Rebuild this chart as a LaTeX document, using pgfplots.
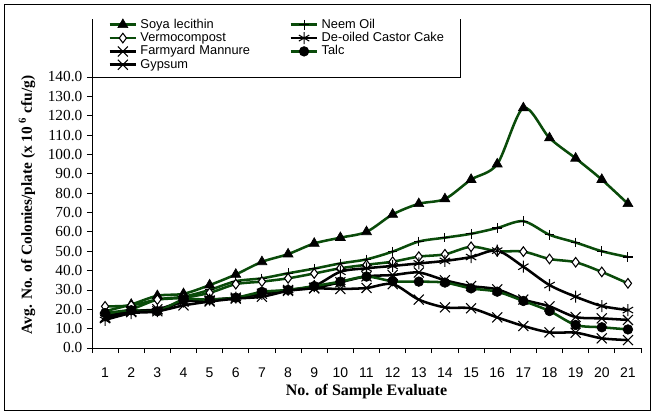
\documentclass[border=0pt]{standalone}
\usepackage{fontspec}
\setmainfont{Liberation Sans}
\newfontfamily\timesf{Liberation Serif}
\usepackage{pgfplots}
\pgfplotsset{compat=1.18}
\definecolor{dg}{RGB}{10,75,10}
\begin{document}
\begin{tikzpicture}
\useasboundingbox (-69pt,-47.25pt) rectangle (422.25pt,261pt);
\draw[line width=0.75pt] (-65.25pt,-46.5pt) rectangle (418.5pt,257.25pt);
\begin{axis}[
  at={(0,0)}, anchor=south west,
  width=411.75pt, height=203.25pt, scale only axis,
  xmin=0.5, xmax=21.5, ymin=0, ymax=140,
  axis x line*=bottom, axis y line*=left,
  axis line style={-, line width=0.6pt},
  tick align=outside, major tick length=3.75pt,
  tick style={line width=0.6pt, black},
  xtick={0.5,1.5,...,21.5},
  xticklabels={1,2,3,4,5,6,7,8,9,10,11,12,13,14,15,16,17,18,19,20,21,{}},
  xticklabel style={xshift=9.8pt, yshift=-7.5pt, font=\fontsize{10.5}{12}\selectfont},
  ytick={0,10,...,140},
  yticklabel={\pgfmathprintnumber[fixed,fixed zerofill,precision=1,assume math mode=true]{\tick}},
  yticklabel style={font=\timesf\fontsize{11.5}{13}\selectfont},
  every axis y label/.style={at={(axis description cs:-0.1184,0.528)}, anchor=center, rotate=90},
  every axis x label/.style={at={(axis description cs:0.5,0)}, anchor=center, yshift=-33pt},
  ylabel={\timesf\bfseries\fontsize{11.5}{13}\selectfont Avg. No. of Colonies/plate (x 10 \textsuperscript{6} cfu/g)},
  xlabel={\timesf\bfseries\fontsize{12}{14}\selectfont No. of Sample Evaluate},
  legend columns=2,
  legend cell align=left,
  legend style={name=leg, draw=none, fill=white, at={(axis description cs:0,1)}, anchor=south west,
    inner xsep=12pt, inner ysep=4pt, font=\fontsize{9.6}{11}\selectfont,
    nodes={inner sep=0pt, text height=7.5pt, text depth=2.5pt},
    /tikz/every odd column/.append style={column sep=2.25pt},
    /tikz/column 2/.append style={text width=111.75pt}},
  legend image code/.code={\draw[mark repeat=2,mark phase=2] plot coordinates {(0pt,0pt) (10pt,0pt) (20pt,0pt)};},
]
\addplot[dg, line width=1.9pt, smooth, tension=0.5, mark=triangle*, mark size=4.3pt,
  mark options={fill=black, draw=black, line width=0.5pt, solid}] coordinates {
 (1,19) (2,22.5) (3,27) (4,28) (5,32.5) (6,38) (7,44.5) (8,48.5) (9,54) (10,57) (11,60)
 (12,69) (13,74.5) (14,77) (15,87) (16,95) (17,124) (18,108.5) (19,98) (20,87) (21,74.5)};
\addlegendentry{Soya lecithin}
\addplot[dg, line width=1.9pt, smooth, tension=0.5, mark=+, mark size=3.6pt,
  mark options={draw=black, line width=0.8pt, solid}] coordinates {
 (1,17) (2,20) (3,25) (4,26.5) (5,30) (6,34.5) (7,36) (8,38.6) (9,41) (10,43.7) (11,45.8)
 (12,49.8) (13,55) (14,57) (15,59) (16,62) (17,65.5) (18,58.5) (19,54.5) (20,50) (21,47)};
\addlegendentry{Neem Oil}
\addplot[dg, line width=1.9pt, smooth, tension=0.5, mark=diamond*, mark size=3.6pt,
  mark options={fill=white, draw=black, line width=0.8pt, solid}] coordinates {
 (1,21.5) (2,22) (3,25) (4,26) (5,28.5) (6,33) (7,34.3) (8,36) (9,38.5) (10,41.2) (11,43)
 (12,44.6) (13,47.2) (14,48.4) (15,52.3) (16,50) (17,49.8) (18,46) (19,44.3) (20,39.3) (21,33.4)};
\addlegendentry{Vermocompost}
\addplot[black, line width=1.9pt, smooth, tension=0.5, mark=asterisk, mark size=4.5pt,
  mark options={draw=black, line width=0.8pt, solid}] coordinates {
 (1,14.5) (2,18) (3,19) (4,24) (5,25) (6,26) (7,28) (8,30) (9,32) (10,39.4) (11,41.2)
 (12,42.4) (13,43.7) (14,45) (15,47) (16,50.3) (17,42) (18,32.5) (19,26.5) (20,21.7) (21,19.6)};
\addlegendentry{De-oiled Castor Cake}
\addplot[black, line width=1.9pt, smooth, tension=0.5, mark=x, mark size=5.3pt,
  mark options={draw=black, line width=0.8pt, solid}] coordinates {
 (1,16) (2,19) (3,20) (4,24) (5,24.5) (6,26) (7,28) (8,30) (9,31) (10,34) (11,37)
 (12,37.7) (13,39) (14,35) (15,32) (16,30.3) (17,25) (18,21.5) (19,16) (20,15.3) (21,14.5)};
\addlegendentry{Farmyard Mannure}
\addplot[dg, line width=1.9pt, smooth, tension=0.5, mark=*, mark size=3.6pt,
  mark options={fill=black, draw=black, line width=0.5pt, solid}] coordinates {
 (1,18) (2,19.5) (3,19) (4,25) (5,25) (6,26) (7,29) (8,30) (9,32) (10,34.3) (11,36.9)
 (12,34.5) (13,34.3) (14,33.8) (15,30.8) (16,29.1) (17,24.3) (18,19.1) (19,11.9) (20,10.7) (21,9.6)};
\addlegendentry{Talc}
\addplot[black, line width=1.9pt, smooth, tension=0.5, mark=x, mark size=5.3pt,
  mark options={draw=black, line width=0.8pt, solid}] coordinates {
 (1,15.5) (2,18.5) (3,19) (4,22) (5,24) (6,25.5) (7,26.5) (8,29.5) (9,30.8) (10,30.5) (11,31)
 (12,33) (13,25) (14,21) (15,20.5) (16,15.8) (17,11.4) (18,8.1) (19,7.9) (20,5) (21,4.1)};
\addlegendentry{Gypsum}
\end{axis}
\draw[line width=0.6pt] ([yshift=-5pt]leg.north west) -- (leg.south west) -- (leg.south east) -- ([yshift=-5pt]leg.north east);
\end{tikzpicture}
\end{document}
